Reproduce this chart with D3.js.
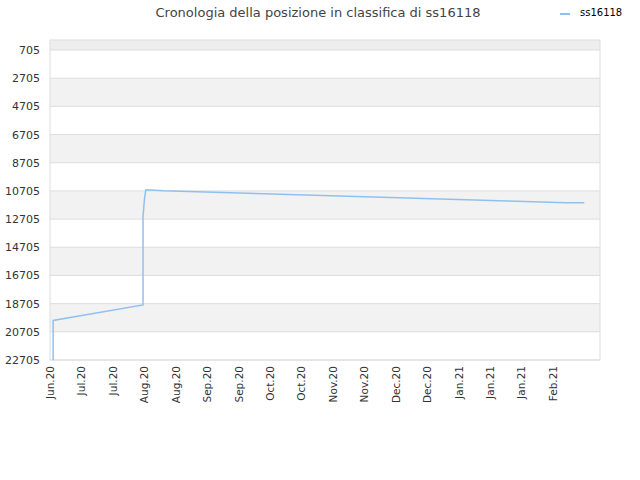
<!DOCTYPE html>
<html><head><meta charset="utf-8">
<script src="https://cdn.jsdelivr.net/npm/d3@7"></script>
<style>body{margin:0;background:#fff;font-family:"DejaVu Sans",sans-serif;}</style>
</head><body><svg id="c" width="640" height="480"></svg>
<script>
var xLabels = ['Jun.20','Jul.20','Jul.20','Aug.20','Aug.20','Sep.20','Sep.20','Oct.20','Oct.20','Nov.20','Nov.20','Dec.20','Dec.20','Jan.21','Jan.21','Jan.21','Feb.21'];
var yTicks = [705, 2705, 4705, 6705, 8705, 10705, 12705, 14705, 16705, 18705, 20705, 22705];
// time in tick units, rank
var times = [0.1, 0.1, 2.96, 2.96, 2.98, 3.0, 3.03, 3.05, 3.63, 4.68, 5.76, 6.81, 7.86, 8.94, 10.02, 11.1, 12.15, 13.24, 14.29, 15.37, 16.42, 17.0];
var ranks = [22705, 19900, 18800, 12500, 12000, 11400, 10900, 10630, 10700, 10770, 10840, 10910, 10980, 11050, 11120, 11190, 11260, 11330, 11400, 11470, 11540, 11540];

var svg = d3.select('#c');
var pLeft = 50, pRight = 600, pTop = 40, pBottom = 360;
var x = d3.scaleLinear().domain([0, 17.5]).range([pLeft, pRight]);
var y = d3.scaleLinear().domain([-4, 22705]).range([pTop, pBottom]);

/* background bands */
svg.append('rect').attr('x', pLeft).attr('y', pTop).attr('width', pRight - pLeft)
    .attr('height', y(705) - pTop).attr('fill', '#eeeeee');
for (var i = 0; i < yTicks.length - 1; i++) {
    svg.append('rect').attr('x', pLeft).attr('y', y(yTicks[i]))
        .attr('width', pRight - pLeft).attr('height', y(yTicks[i + 1]) - y(yTicks[i]))
        .attr('fill', i % 2 ? '#f2f2f2' : '#ffffff');
}
yTicks.forEach(function(t) {
    svg.append('line').attr('x1', pLeft).attr('x2', pRight).attr('y1', y(t)).attr('y2', y(t))
        .attr('stroke', '#dddddd');
});
svg.append('rect').attr('x', pLeft).attr('y', pTop).attr('width', pRight - pLeft).attr('height', pBottom - pTop)
    .attr('fill', 'none').attr('stroke', '#dddddd');

svg.append('g').selectAll('text').data(yTicks).enter().append('text')
    .attr('x', 40).attr('y', function(d) { return y(d) + 4; })
    .attr('text-anchor', 'end').attr('font-size', 11).attr('fill', '#333')
    .text(function(d) { return d; });

svg.append('g').selectAll('text').data(xLabels).enter().append('text')
    .attr('transform', function(d, i) { return 'translate(' + (x(i) + 4) + ',' + (pBottom + 6) + ') rotate(-90)'; })
    .attr('text-anchor', 'end').attr('font-size', 10.5).attr('fill', '#333')
    .text(function(d) { return d; });

var pts = times.map(function(t, i) { return [t, ranks[i]]; });
var line = d3.line().x(function(d) { return x(d[0]); }).y(function(d) { return y(d[1]); });
svg.append('path').attr('d', line(pts)).attr('fill', 'none')
    .attr('stroke', '#90c0f0').attr('stroke-width', 1.5);

svg.append('text').attr('x', 318).attr('y', 17).attr('text-anchor', 'middle')
    .attr('font-size', 13).attr('fill', '#444').text('Cronologia della posizione in classifica di ss16118');
svg.append('line').attr('x1', 560).attr('x2', 570).attr('y1', 14).attr('y2', 14)
    .attr('stroke', '#90c0f0').attr('stroke-width', 2);
svg.append('text').attr('x', 580).attr('y', 16).attr('font-size', 10).attr('fill', '#000').text('ss16118');
</script></body></html>
